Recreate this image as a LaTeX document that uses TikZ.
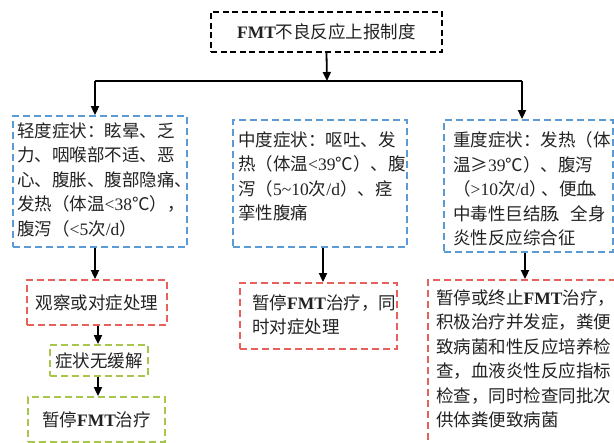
\documentclass[tikz,border=0pt]{standalone}
\usepackage{fontspec}
\setmainfont{Liberation Serif}
\newfontfamily\cjk{Noto Sans CJK SC}
\newcommand\lat[1]{{\rmfamily #1}}
\newcommand\fmt{{\rmfamily\bfseries FMT}}
\usetikzlibrary{arrows.meta}
\definecolor{bluedash}{HTML}{5B9BD5}
\definecolor{reddash}{HTML}{E8605A}
\definecolor{greendash}{HTML}{A8C64B}
\definecolor{txt}{HTML}{222222}
\begin{document}
\begin{tikzpicture}[x=1pt,y=-1pt,
  every node/.style={font=\cjk\fontsize{17.5}{24.5}\selectfont,text=txt},
  box/.style={draw,line width=1.8pt,dash pattern=on 7pt off 4pt,inner sep=0pt},
  bbox/.style={box,draw=bluedash},
  rbox/.style={box,draw=reddash},
  gbox/.style={box,draw=greendash},
  kbox/.style={box,draw=black,dash pattern=on 6pt off 3.5pt},
  txtn/.style={anchor=north west,align=left,inner sep=0pt},
  arr/.style={-{Triangle[length=9pt,width=8pt]},line width=1.8pt},
  ln/.style={line width=1.8pt}]
\useasboundingbox (0,0) rectangle (614,443);
% top
\node[kbox,minimum width=231pt,minimum height=40pt] (top) at (326.5,32) {\fmt 不良反应上报制度};
\coordinate (hl) at (327,81);
\coordinate (L) at (95,81);
\coordinate (R) at (522,81);
\draw[arr] (top.south) -- (hl);
\draw[ln] (L) -- (R);
% level boxes
\node[bbox,minimum width=174pt,minimum height=131pt] (mild) at (100,181.5) {};
\node[bbox,minimum width=174pt,minimum height=127pt] (mod) at (320,183.5) {};
\node[bbox,minimum width=169pt,minimum height=132pt] (sev) at (528.5,186) {};
\draw[arr] (L) -- (L |- mild.north);
\draw[arr] (R) -- (R |- sev.north);
\node[txtn] (mildt) at (17,122.5) {轻度症状：眩晕、乏\\力、咽喉部不适、恶\\心、腹胀、腹部隐痛、\\发热（体温\lat{<38}℃），\\腹泻（\lat{<5}次\lat{/d}）};
\node[txtn] (modt) at (238,131.5) {中度症状：呕吐、发\\热（体温\lat{<39}℃）、腹\\泻（\lat{5\textasciitilde10}次\lat{/d}）、痉\\挛性腹痛};
\node[txtn] (sevt) at (453,131.5) {重度症状：发热（体\\温≥\lat{39}℃）、腹泻\\（\lat{>10}次\lat{/d}）\hspace{-5pt}、便血\hspace{-4pt}、\\中毒性巨结肠\hspace{-5pt}、全身\\炎性反应综合征};
% left column
\node[rbox,minimum width=140pt,minimum height=45pt] (obs) at (97,302.5) {观察或对症处理};
\node[gbox,minimum width=98pt,minimum height=31pt] (norel) at (99,360.5) {症状无缓解};
\node[gbox,minimum width=137pt,minimum height=45pt] (stop1) at (96.5,419.5) {暂停\fmt 治疗};
\coordinate (la) at (95,247);
\draw[arr] (mild.south -| la) -- (obs.north -| la);
\coordinate (lb) at (98,0);
\draw[arr] (obs.south -| lb) -- (norel.north -| lb);
\draw[arr] (norel.south -| lb) -- (stop1.north -| lb);
% middle column
\node[rbox,minimum width=157pt,minimum height=66pt] (mred) at (318.5,316) {};
\node[txtn] (mredt) at (252,294.5) {暂停\fmt 治疗，同\\时对症处理};
\coordinate (mc) at (323,0);
\draw[arr] (mod.south -| mc) -- (mred.north -| mc);
% right column
\node[rbox,minimum width=187pt,minimum height=166pt] (sred) at (521.5,363) {};
\node[txtn] (sredt) at (436,289.5) {暂停或终止\fmt 治疗，\\积极治疗并发症，粪便\\致病菌和性反应培养检\\查，血液炎性反应指标\\检查，同时检查同批次\\供体粪便致病菌};
\coordinate (rc) at (525,0);
\draw[arr] (sev.south -| rc) -- (sred.north -| rc);
\end{tikzpicture}
\end{document}
